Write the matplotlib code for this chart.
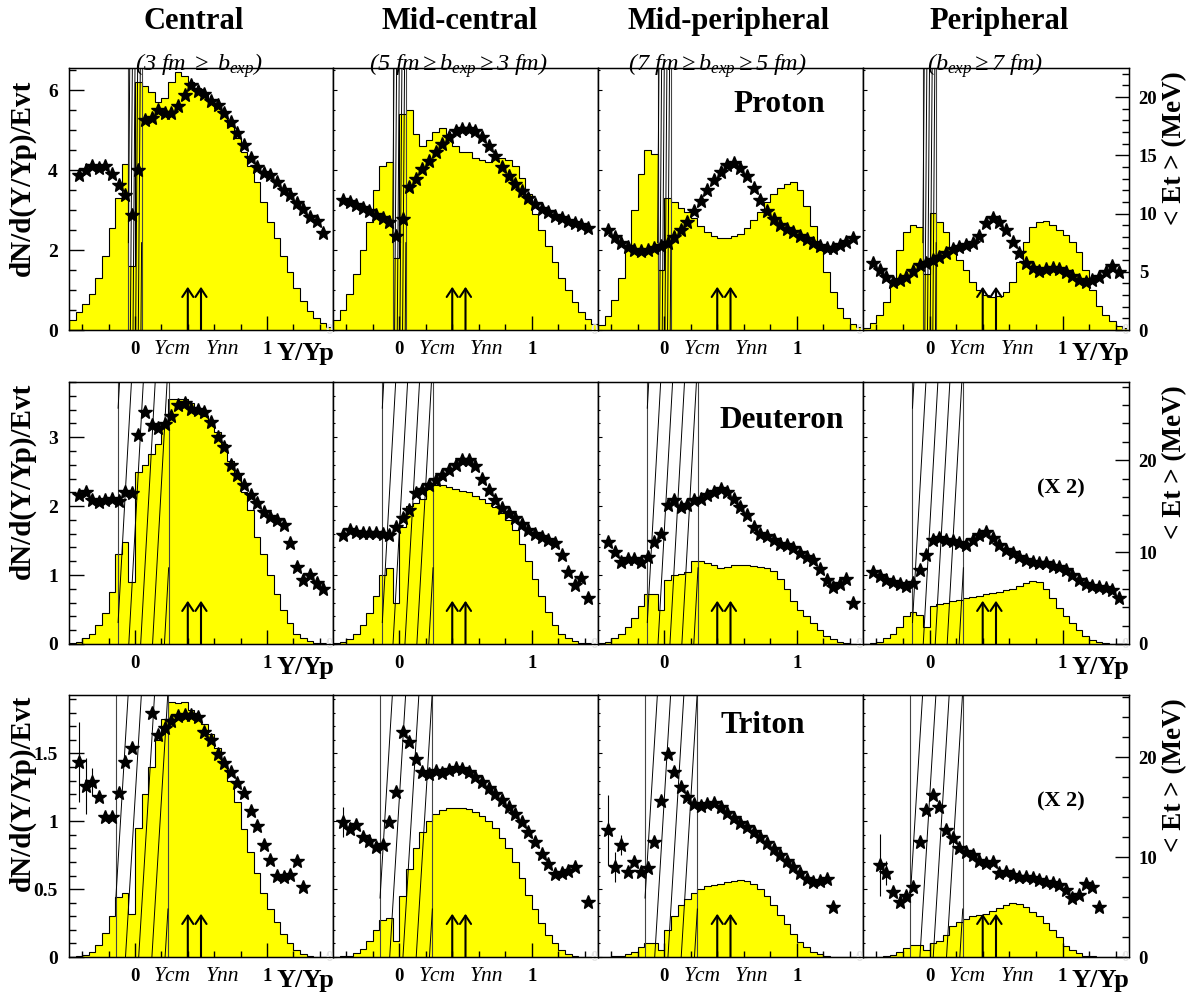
import numpy as np
import matplotlib.pyplot as plt
from matplotlib.ticker import FixedLocator, MultipleLocator, FixedFormatter

plt.rcParams['font.family'] = ['Liberation Serif', 'DejaVu Serif']
plt.rcParams['mathtext.fontset'] = 'custom'
plt.rcParams['mathtext.it'] = 'Liberation Serif:italic'
plt.rcParams['mathtext.rm'] = 'Liberation Serif:italic'

nan = np.nan

# ------------------------- data -------------------------
# rapidity bins of the dN/d(Y/Yp) histograms and of the <Et> profiles
y_edges = np.linspace(-0.5, 1.5, 41)
star_x = np.linspace(-0.425, 1.425, 38)

# proton
p_cen_dn = [0.25, 0.45, 0.65, 0.9, 1.3, 1.85, 2.55, 3.3, 4.15, 1.6, 6.2, 6.1, 5.95, 5.7, 5.8, 6.2, 6.45, 6.35, 6.2, 6.05,
            5.9, 5.7, 5.55, 5.35, 5.1, 4.8, 4.45, 4.1, 3.7, 3.2, 2.7, 2.3, 1.85, 1.45, 1.05, 0.72, 0.48, 0.3, 0.17, 0.08]
p_cen_et = [13.35, 13.72, 14.07, 13.95, 14.07, 13.38, 12.44, 11.58, 9.86, 13.72, 18.0, 18.2, 18.9, 18.6, 18.6, 19.2,
            20.2, 21.0, 20.5, 20.3, 19.7, 19.3, 18.6, 17.9, 16.9, 15.9, 14.8, 14.0, 13.5, 13.3, 12.7, 12.0, 11.6, 10.9,
            10.4, 9.7, 9.4, 8.3]
p_mc_dn = [0.25, 0.5, 0.9, 1.4, 2.0, 2.7, 3.5, 4.1, 4.2, 1.8, 5.4, 5.5, 4.9, 4.6, 4.75, 4.95, 5.05, 4.9, 4.6, 4.45,
           4.45, 4.3, 4.25, 4.2, 4.3, 4.3, 4.25, 4.1, 3.8, 3.4, 2.9, 2.5, 2.1, 1.7, 1.3, 1.0, 0.7, 0.45, 0.28, 0.15]
p_mc_et = [11.2, 11.0, 10.7, 10.5, 10.2, 9.9, 9.6, 9.3, 8.1, 9.5, 12.3, 13.0, 13.8, 14.5, 15.3, 16.0, 16.6, 17.1, 17.3,
           17.3, 17.1, 16.6, 15.8, 14.9, 14.0, 13.2, 12.5, 11.9, 11.3, 10.8, 10.4, 10.1, 9.8, 9.6, 9.4, 9.2, 9.0, 8.8]
p_mp_dn = [0.12, 0.35, 0.75, 1.3, 2.1, 3.0, 3.9, 4.5, 4.4, 1.5, 3.3, 3.2, 3.05, 2.95, 2.8, 2.6, 2.45, 2.35, 2.3, 2.3,
           2.35, 2.4, 2.55, 2.75, 2.95, 3.2, 3.4, 3.55, 3.65, 3.7, 3.5, 3.1, 2.6, 2.0, 1.45, 0.95, 0.55, 0.3, 0.15, 0.07]
p_mp_et = [8.6, 8.0, 7.5, 7.1, 6.9, 6.8, 6.9, 7.0, 7.2, 7.5, 8.0, 8.6, 9.3, 10.2, 11.1, 12.0, 12.9, 13.6, 14.2, 14.3,
           13.9, 13.2, 12.2, 11.2, 10.2, 9.5, 9.0, 8.7, 8.4, 8.1, 7.8, 7.5, 7.2, 7.0, 7.0, 7.3, 7.6, 7.9]
p_per_dn = [0.06, 0.18, 0.37, 0.7, 1.2, 2.0, 2.45, 2.63, 2.58, 1.4, 2.92, 2.7, 2.45, 2.05, 1.75, 1.5, 1.2, 1.0, 0.88,
            0.83, 0.85, 0.95, 1.2, 1.7, 2.2, 2.58, 2.7, 2.72, 2.63, 2.5, 2.38, 2.2, 1.95, 1.5, 1.0, 0.6, 0.38, 0.22,
            0.1, 0.04]
p_per_et = [5.72, 5.15, 4.57, 4.15, 4.29, 4.57, 5.09, 5.57, 5.77, 6.0, 6.29, 6.58, 6.92, 7.15, 7.29, 7.49, 8.06, 9.15,
            9.58, 9.29, 8.58, 7.57, 6.58, 5.72, 5.29, 5.09, 5.2, 5.29, 5.2, 5.0, 4.63, 4.29, 4.15, 4.29, 4.57, 5.0,
            5.49, 5.0]

# deuteron
d_cen_dn = [0.01, 0.03, 0.08, 0.15, 0.28, 0.45, 0.75, 1.3, 1.48, 0.9, 2.5, 2.6, 2.75, 2.9, 3.2, 3.55, 3.55, 3.55, 3.5,
            3.42, 3.3, 3.2, 3.08, 2.9, 2.65, 2.45, 2.2, 1.95, 1.55, 1.3, 1.0, 0.72, 0.5, 0.3, 0.15, 0.08, 0.04, 0.02,
            0.01, 0.0]
d_cen_et = [16.2, 16.55, 15.65, 15.5, 15.7, 15.8, 15.55, 16.55, 16.4, 22.7, 25.25, 23.8, 23.55, 23.9, 24.8, 25.98,
            26.2, 25.6, 25.4, 25.25, 24.2, 22.5, 21.4, 19.45, 18.4, 17.3, 16.2, 15.3, 14.4, 13.8, 13.5, 12.9, 11.0, 8.4,
            6.96, 7.5, 6.6, 5.94]
d_mc_dn = [0.01, 0.03, 0.07, 0.15, 0.28, 0.45, 0.7, 1.0, 1.1, 0.6, 1.7, 2.0, 2.05, 2.1, 2.25, 2.3, 2.3, 2.28, 2.25,
           2.22, 2.2, 2.15, 2.1, 2.05, 1.98, 1.9, 1.8, 1.65, 1.45, 1.2, 0.95, 0.7, 0.47, 0.28, 0.15, 0.08, 0.04, 0.02,
           0.01, 0.0]
d_mc_et = [11.85, 12.4, 12.2, 12.1, 12.1, 12.1, 12.0, 11.85, 12.7, 13.7, 14.6, 16.4, 16.7, 17.3, 17.8, 18.4, 18.9,
           19.5, 20.0, 20.0, 19.35, 18.0, 16.7, 15.65, 14.8, 14.2, 13.7, 13.0, 12.4, 12.0, 11.6, 11.3, 11.0, 9.7, 7.8,
           6.4, 7.2, 5.0]
d_mp_dn = [0.01, 0.03, 0.08, 0.15, 0.25, 0.37, 0.55, 0.72, 0.72, 0.5, 0.93, 1.0, 1.02, 1.05, 1.2, 1.21, 1.18, 1.14,
           1.1, 1.12, 1.14, 1.14, 1.14, 1.13, 1.12, 1.1, 1.06, 0.95, 0.8, 0.63, 0.5, 0.4, 0.3, 0.2, 0.12, 0.07, 0.03,
           0.01, 0.0, 0.0]
d_mp_et = [11.05, 10.04, 8.95, 9.3, 9.3, 8.95, 9.42, 11.1, 12.0, 15.1, 15.65, 14.9, 15.1, 15.65, 15.8, 16.2, 16.55,
           16.9, 16.55, 15.8, 14.9, 14.0, 12.75, 12.0, 11.7, 11.3, 10.9, 10.76, 10.4, 9.86, 9.5, 9.13, 8.2, 7.0, 6.2,
           6.5, 7.1, 4.5]
d_per_dn = [0.0, 0.01, 0.03, 0.08, 0.15, 0.25, 0.4, 0.47, 0.42, 0.25, 0.55, 0.58, 0.6, 0.62, 0.64, 0.66, 0.68, 0.7,
            0.72, 0.74, 0.76, 0.78, 0.8, 0.84, 0.88, 0.92, 0.9, 0.8, 0.66, 0.52, 0.4, 0.3, 0.2, 0.12, 0.06, 0.03, 0.01,
            0.0, 0.0, 0.0]
d_per_et = [7.8, 7.4, 6.95, 6.75, 6.5, 6.3, 6.6, 8.0, 9.7, 11.3, 11.5, 11.3, 11.2, 11.0, 10.8, 11.3, 11.85, 12.2, 11.5,
            10.8, 10.2, 9.9, 9.5, 9.1, 8.9, 8.8, 8.8, 8.5, 8.4, 8.0, 7.5, 6.95, 6.5, 6.3, 6.2, 6.1, 5.9, 5.0]

# triton
t_cen_dn = [0.0, 0.005, 0.015, 0.035, 0.09, 0.18, 0.3, 0.44, 0.47, 0.32, 0.95, 1.2, 1.4, 1.6, 1.75, 1.88, 1.87, 1.88,
            1.82, 1.78, 1.72, 1.64, 1.54, 1.43, 1.3, 1.14, 0.94, 0.77, 0.62, 0.47, 0.35, 0.26, 0.17, 0.1, 0.05, 0.02,
            0.01, 0.0, 0.0, 0.0]
t_cen_et = [19.5, 17.1, 17.5, 16.0, 14.0, 14.0, 16.4, 19.5, 20.9, nan, nan, 24.4, 22.2, 22.9, 23.6, 24.1, 24.2, 24.2,
            24.0, 22.5, 21.7, 20.3, 19.4, 18.5, 17.4, 16.4, 14.6, 13.1, 11.2, 9.7, 8.1, 8.0, 8.2, 9.6, 7.0, nan, nan,
            nan]
t_mc_dn = [0.0, 0.005, 0.01, 0.03, 0.06, 0.12, 0.2, 0.27, 0.29, 0.12, 0.45, 0.65, 0.8, 0.92, 1.0, 1.05, 1.08, 1.1, 1.1,
           1.1, 1.09, 1.07, 1.04, 1.0, 0.95, 0.88, 0.8, 0.7, 0.58, 0.46, 0.35, 0.25, 0.16, 0.1, 0.05, 0.02, 0.01, 0.0,
           0.0, 0.0]
t_mc_et = [13.5, 12.8, 13.2, 12.0, 11.6, 11.0, 11.2, 13.5, 16.5, 22.5, 21.5, 19.8, 18.5, 18.3, 18.6, 18.4, 18.7, 18.9,
           18.8, 18.5, 18.0, 17.5, 16.9, 16.3, 15.7, 15.0, 14.3, 13.5, 12.5, 11.5, 10.3, 9.3, 8.3, 8.4, 8.6, 9.0, nan,
           5.5]
t_mp_dn = [0.0, 0.0, 0.005, 0.01, 0.02, 0.04, 0.07, 0.1, 0.1, 0.05, 0.2, 0.3, 0.38, 0.43, 0.47, 0.5, 0.52, 0.53, 0.54,
           0.55, 0.56, 0.57, 0.56, 0.54, 0.5, 0.45, 0.38, 0.31, 0.24, 0.17, 0.11, 0.07, 0.04, 0.02, 0.01, 0.0, 0.0,
           0.0, 0.0, 0.0]
t_mp_et = [12.7, 9.0, 11.2, 8.5, 9.5, 8.5, 8.9, 11.5, 15.6, 20.3, 18.5, 17.0, 16.0, 15.3, 15.1, 15.3, 15.4, 15.0, 14.4,
           13.9, 13.4, 13.0, 12.5, 12.0, 11.4, 10.8, 10.2, 9.6, 9.0, 8.4, 7.8, 7.5, 7.6, 7.8, 5.0, nan, nan, nan]
t_per_dn = [0.0, 0.0, 0.002, 0.008, 0.015, 0.035, 0.065, 0.09, 0.085, 0.05, 0.1, 0.12, 0.16, 0.23, 0.26, 0.28, 0.3,
            0.31, 0.32, 0.34, 0.36, 0.38, 0.4, 0.39, 0.37, 0.33, 0.3, 0.25, 0.2, 0.15, 0.08, 0.05, 0.03, 0.01, 0.005,
            0.0, 0.0, 0.0, 0.0, 0.0]
t_per_et = [nan, 9.2, 8.37, 6.53, 5.47, 6.1, 7.03, 11.5, 14.7, 16.2, 15.0, 12.7, 11.9, 10.87, 10.5, 10.2, 9.63, 9.43,
            9.53, 8.43, 8.53, 8.2, 8.03, 8.03, 7.87, 7.7, 7.53, 7.37, 7.2, 6.7, 5.87, 6.2, 7.27, 6.97, 5.03, nan, nan,
            nan]

# error bars on the first few <Et> points (triton)
t_cen_err = [4.0, 2.8, 1.4]
t_mc_err = [1.5, 0.0, 0.0]
t_mp_err = [3.5, 1.5, 1.0]
t_per_err = [0.0, 3.1, 1.2]

y_cm, y_nn = 0.4, 0.5

titles = ['Central', 'Mid-central', 'Mid-peripheral', 'Peripheral']
subtitles = [r'$(3\ fm\ {\geq}\ b_{exp})$',
             r'$(5\ fm{\geq}b_{exp}{\geq}3\ fm)$',
             r'$(7\ fm{\geq}b_{exp}{\geq}5\ fm)$',
             r'$(b_{exp}{\geq}7\ fm)$']
particles = ['Proton', 'Deuteron', 'Triton']

dn_data = [[p_cen_dn, p_mc_dn, p_mp_dn, p_per_dn],
           [d_cen_dn, d_mc_dn, d_mp_dn, d_per_dn],
           [t_cen_dn, t_mc_dn, t_mp_dn, t_per_dn]]
et_data = [[p_cen_et, p_mc_et, p_mp_et, p_per_et],
           [d_cen_et, d_mc_et, d_mp_et, d_per_et],
           [t_cen_et, t_mc_et, t_mp_et, t_per_et]]
et_err = {(2, 0): t_cen_err, (2, 1): t_mc_err, (2, 2): t_mp_err, (2, 3): t_per_err}

# ------------------------------ layout ------------------------------
W, H = 1200, 997
fig = plt.figure(figsize=(W / 100, H / 100), dpi=100)

col_px = [69, 333, 598, 863, 1129]
row_px = [(68, 330), (382, 644), (695, 957)]
dn_max = [6.55, 3.8, 1.93]
et_max = [22.5, 28.5, 26.2]
dn_major = [[0, 2, 4, 6], [0, 1, 2, 3], [0, 0.5, 1, 1.5]]
dn_labels = [['0', '2', '4', '6'], ['0', '1', '2', '3'], ['0', '0.5', '1', '1.5']]
dn_minor = [0.5, 0.2, 0.1]
et_major = [[0, 5, 10, 15, 20], [0, 10, 20], [0, 10, 20]]
et_minor = [1, 2, 2]
# cut band (hatched): x0, x1, tilt over panel height, line step, first top position
bands = [(-0.05, 0.05, 0.015, 0.02, -0.04),
         (-0.128, 0.255, 0.11, 0.09, -0.027),
         (-0.145, 0.25, 0.12, 0.1, -0.052)]


def hatch_band(ax, x0, x1, tilt, step, first):
    trans = ax.get_xaxis_transform()
    for xb in (x0, x1):
        ax.plot([xb, xb], [0, 1], color='#444444', lw=0.8, transform=trans)
    top = first - 4 * step
    while top < x1 + tilt + step:
        bot = top - tilt
        t0 = max(0.0, (x0 - bot) / tilt)
        t1 = min(1.0, (x1 - bot) / tilt)
        if t1 > t0:
            ax.plot([bot + tilt * t0, bot + tilt * t1], [t0, t1], color='black', lw=0.7, transform=trans)
        top += step


for r in range(3):
    for c in range(4):
        left, right = col_px[c], col_px[c + 1]
        top, bottom = row_px[r]
        ax = fig.add_axes([left / W, 1 - bottom / H, (right - left) / W, (bottom - top) / H])
        trans = ax.get_xaxis_transform()

        dn = dn_data[r][c]
        ax.stairs(dn, y_edges, fill=True, color='#ffff00', lw=0)
        ax.stairs(dn, y_edges, color='black', lw=0.8, baseline=0)

        hatch_band(ax, *bands[r])

        for xa in (y_cm, y_nn):
            ax.annotate('', xy=(xa, 0.165), xytext=(xa, 0.0), xycoords=trans, textcoords=trans,
                        arrowprops=dict(arrowstyle='->,head_length=0.6,head_width=0.4', lw=1.5,
                                        color='black', mutation_scale=10, shrinkA=0, shrinkB=0))

        ax.set_xlim(-0.5, 1.5)
        ax.set_ylim(0, dn_max[r])
        ax.xaxis.set_major_locator(FixedLocator([0, 1]))
        ax.xaxis.set_major_formatter(FixedFormatter(['0', '1']))
        ax.xaxis.set_minor_locator(MultipleLocator(0.2))
        ax.tick_params(axis='x', which='major', direction='in', length=10, width=1, labelsize=13.5, pad=8)
        ax.tick_params(axis='x', which='minor', direction='in', length=4, width=1)
        for lab in ax.get_xticklabels():
            lab.set_fontweight('bold')

        ax.yaxis.set_major_locator(FixedLocator(dn_major[r]))
        ax.yaxis.set_minor_locator(MultipleLocator(dn_minor[r]))
        if c == 0:
            ax.yaxis.set_major_formatter(FixedFormatter(dn_labels[r]))
            ax.tick_params(axis='y', which='major', direction='in', length=11, width=1, labelsize=14, pad=8)
            ax.tick_params(axis='y', which='minor', direction='in', length=5, width=1)
            for lab in ax.get_yticklabels():
                lab.set_fontweight('bold')
        else:
            ax.tick_params(axis='y', which='major', direction='in', length=3, width=0.8, labelleft=False)
            ax.tick_params(axis='y', which='minor', direction='in', length=1.5, width=0.8)
        for sp in ax.spines.values():
            sp.set_linewidth(1.0)

        tw = ax.twinx()
        tw.set_ylim(0, et_max[r])
        et = np.array(et_data[r][c], dtype=float)
        if (r, c) in et_err:
            err = et_err[(r, c)]
            n = len(err)
            tw.errorbar(star_x[:n], et[:n], yerr=err, fmt='none', ecolor='black', elinewidth=0.8, capsize=0)
        tw.plot(star_x, et, ls='none', marker='*', ms=10.5, color='black', mec='black')
        if c == 3:
            tw.yaxis.set_major_locator(FixedLocator(et_major[r]))
            tw.yaxis.set_major_formatter(FixedFormatter([str(v) for v in et_major[r]]))
            tw.yaxis.set_minor_locator(MultipleLocator(et_minor[r]))
            tw.tick_params(axis='y', which='major', direction='in', length=10, width=1, labelsize=13.5, pad=7)
            tw.tick_params(axis='y', which='minor', direction='in', length=5, width=1)
            for lab in tw.get_yticklabels():
                lab.set_fontweight('bold')
        else:
            tw.tick_params(axis='y', which='both', right=False, labelright=False)

        # ROOT leftover label in the corner
        ax.text(1.47, 0.0, '0', transform=trans, ha='center', va='center', fontsize=11,
                fontweight='bold', color='#e4e4e4', clip_on=False)

        if r != 1:
            ax.text(0.285, -0.04, 'Ycm', transform=trans, ha='center', va='top', fontsize=15.5,
                    style='italic')
            ax.text(0.66, -0.04, 'Ynn', transform=trans, ha='center', va='top', fontsize=15.5,
                    style='italic')
        if c in (0, 3):
            ax.text(1.07, -0.045, 'Y/Yp', transform=trans, ha='left', va='top', fontsize=19,
                    fontweight='bold')

    # axis titles of the row
    top = row_px[r][0]
    fig.text(22 / W, 1 - (top + [12, 1, 0][r]) / H, 'dN/d(Y/Yp)/Evt', rotation=90, ha='center', va='top',
             fontsize=21, fontweight='bold')
    fig.text(1175 / W, 1 - (top + 3) / H, '< Et > (MeV)', rotation=90, ha='center', va='top',
             fontsize=19.5, fontweight='bold')

# column headers
for c, (tx, sx) in enumerate(zip([194, 460, 729, 999], [199, 458, 717, 985])):
    fig.text(tx / W, 1 - 29 / H, titles[c], ha='center', va='baseline', fontsize=22, fontweight='bold')
    fig.text(sx / W, 1 - 71 / H, subtitles[c], ha='center', va='baseline', fontsize=17.5)

# particle names and scale notes
fig.text(779 / W, 1 - 105 / H, particles[0], ha='center', va='center', fontsize=22.5, fontweight='bold')
fig.text(782 / W, 1 - 421 / H, particles[1], ha='center', va='center', fontsize=22.5, fontweight='bold')
fig.text(763 / W, 1 - 725 / H, particles[2], ha='center', va='center', fontsize=22.5, fontweight='bold')
fig.text(1061 / W, 1 - 488 / H, '(X 2)', ha='center', va='center', fontsize=16, fontweight='bold')
fig.text(1061 / W, 1 - 801 / H, '(X 2)', ha='center', va='center', fontsize=16, fontweight='bold')

fig.savefig('out.png', dpi=100, facecolor='white')
